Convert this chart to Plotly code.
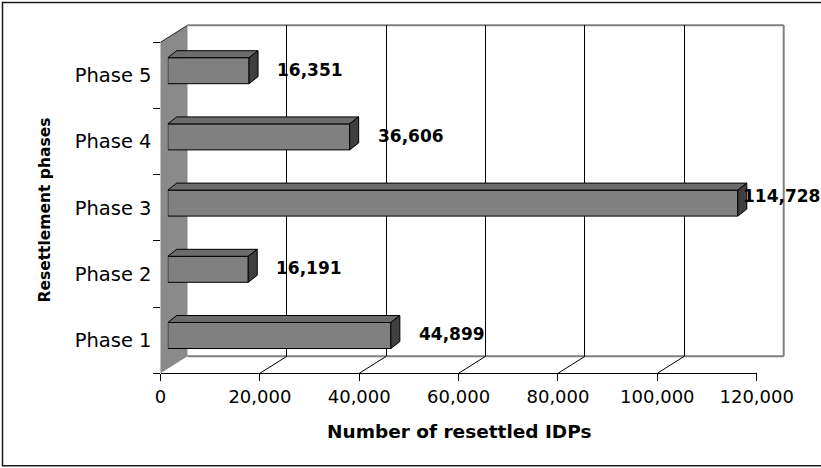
import plotly.graph_objects as go

# ---------------- data ----------------
phases = ["Phase 1", "Phase 2", "Phase 3", "Phase 4", "Phase 5"]
resettled = [44899, 16191, 114728, 36606, 16351]
x_ticks = [0, 20000, 40000, 60000, 80000, 100000, 120000]
x_title = "Number of resettled IDPs"
y_title = "Resettlement phases"

# ---------------- geometry / style ----------------
W, H = 821, 468
FX0, FX1 = 160.5, 756.7      # front plane, x pixels
FY0, FY1 = 42.3, 373.3       # front plane, y pixels (top, bottom)
XMAX = 120000
DX, DY = 27, 17              # depth of the back wall
BX, BY = 7.3, 4.7            # depth at which bars stand
TX, TY = 9, 7                # bar thickness (depth)
HALF = 13                    # half bar height in px
FONT = "DejaVu Sans"
LBL = 17
ppu = (FX1 - FX0) / XMAX


def fx(px):
    return px / W


def fy(py):
    return 1 - py / H


fig = go.Figure()

# helper (invisible) traces so the front and back axes exist
fig.add_trace(go.Scatter(x=[0] * len(phases), y=phases, mode="markers",
                         marker=dict(opacity=0), hoverinfo="skip",
                         showlegend=False, xaxis="x", yaxis="y"))
fig.add_trace(go.Scatter(x=[0], y=[0], mode="markers", marker=dict(opacity=0),
                         hoverinfo="skip", showlegend=False,
                         xaxis="x2", yaxis="y2"))

# the bars (front faces)
cat_px = (FY1 - FY0) / len(phases)
fig.add_trace(go.Bar(x=resettled, y=phases, orientation="h",
                     width=2 * HALF / cat_px,
                     marker=dict(color="#808080", line=dict(color="black", width=1)),
                     hoverinfo="skip", showlegend=False,
                     xaxis="x3", yaxis="y3"))

shapes = []

# left wall
shapes.append(dict(type="path", xref="paper", yref="paper", layer="below",
                   path=(f"M{fx(FX0)},{fy(FY1)} L{fx(FX0)},{fy(FY0)} "
                         f"L{fx(FX0+DX)},{fy(FY0-DY)} L{fx(FX0+DX)},{fy(FY1-DY)} Z"),
                   fillcolor="#8a8a8a", line=dict(width=0)))
shapes.append(dict(type="line", xref="paper", yref="paper", layer="below",
                   x0=fx(FX0), y0=fy(FY0), x1=fx(FX0 + DX), y1=fy(FY0 - DY),
                   line=dict(color="#202020", width=1)))
# back wall outline (top, right) and floor back edge
for (x0, y0, x1, y1) in [(FX0 + DX, FY0 - DY, FX1 + DX, FY0 - DY),
                         (FX1 + DX, FY0 - DY, FX1 + DX, FY1 - DY),
                         (FX0 + DX, FY1 - DY, FX1 + DX, FY1 - DY)]:
    shapes.append(dict(type="line", xref="paper", yref="paper", layer="below",
                       x0=fx(x0), y0=fy(y0), x1=fx(x1), y1=fy(y1),
                       line=dict(color="#808080", width=2)))
# floor diagonals
for v in x_ticks[1:]:
    col = "#808080" if v == x_ticks[-1] else "black"
    wid = 2 if v == x_ticks[-1] else 1
    shapes.append(dict(type="path", xref="x", yref="paper", layer="below",
                       xsizemode="pixel", xanchor=v,
                       ysizemode="pixel", yanchor=fy(FY1),
                       path=f"M0,0 L{DX},{DY}",
                       line=dict(color=col, width=wid)))

# 3D faces of the bars
for i, v in enumerate(resettled):
    shapes.append(dict(type="path", xref="x3", yref="y3", layer="above",
                       ysizemode="pixel", yanchor=phases[i],
                       path=(f"M0,{HALF} L{v},{HALF} L{v + TX / ppu},{HALF + TY} "
                             f"L{TX / ppu},{HALF + TY} Z"),
                       fillcolor="#6c6c6c", line=dict(color="black", width=1)))
    shapes.append(dict(type="path", xref="x3", yref="y3", layer="above",
                       xsizemode="pixel", xanchor=v,
                       ysizemode="pixel", yanchor=phases[i],
                       path=(f"M0,{-HALF} L0,{HALF} L{TX},{HALF + TY} "
                             f"L{TX},{-HALF + TY} Z"),
                       fillcolor="#3f3f3f", line=dict(color="black", width=1)))

# outer border
shapes.append(dict(type="rect", xref="paper", yref="paper", layer="above",
                   x0=fx(2.5), y0=fy(465.8), x1=fx(823), y1=fy(2.5),
                   line=dict(color="#1a1a1a", width=1.5)))

annotations = []
for i, v in enumerate(resettled):
    txt = f"{v:,}"
    end_px = FX0 + BX + v * ppu
    n_dig = sum(c.isdigit() for c in txt)
    n_com = txt.count(",")
    est_w = LBL * (0.696 * n_dig + 0.38 * n_com)
    shift, yshift = 26, 1
    if end_px + shift + est_w > 818:
        shift = 818 - est_w - end_px
        yshift = 7
    annotations.append(dict(x=v, y=phases[i], xref="x3", yref="y3",
                            text=txt, showarrow=False, xanchor="left",
                            yanchor="middle", xshift=shift, yshift=yshift,
                            font=dict(family=FONT, size=LBL, color="black",
                                      weight="bold")))

annotations.append(dict(x=0.5, y=fy(431.7), xref="x domain", yref="paper",
                        text=x_title, showarrow=False, xanchor="center",
                        yanchor="middle",
                        font=dict(family=FONT, size=18.5, color="black",
                                  weight="bold")))
annotations.append(dict(x=fx(44.5), y=fy(210), xref="paper", yref="paper",
                        text=y_title, showarrow=False, textangle=-90,
                        xanchor="center", yanchor="middle",
                        font=dict(family=FONT, size=15.5, color="black",
                                  weight="bold")))

fig.update_layout(
    width=W, height=H,
    margin=dict(l=0, r=0, t=0, b=0),
    paper_bgcolor="white", plot_bgcolor="rgba(0,0,0,0)",
    showlegend=False,
    font=dict(family=FONT, color="black"),
    xaxis=dict(domain=[fx(FX0), fx(FX1)], range=[0, XMAX], anchor="y",
               tickvals=x_ticks, tickformat=",", ticks="outside", ticklen=7,
               tickcolor="black", tickwidth=1, showline=True,
               linecolor="black", linewidth=1, showgrid=False,
               zeroline=False, automargin=False, fixedrange=True,
               tickfont=dict(family=FONT, size=18, color="black")),
    yaxis=dict(domain=[fy(FY1), fy(FY0)], type="category",
               categoryorder="array", categoryarray=phases,
               range=[-0.5, len(phases) - 0.5], anchor="x",
               tickson="boundaries", ticks="outside", ticklen=7,
               ticklabelstandoff=8,
               tickcolor="black", tickwidth=1, showline=False,
               showgrid=False, zeroline=False, automargin=False,
               fixedrange=True,
               tickfont=dict(family=FONT, size=19.5, color="black")),
    xaxis2=dict(domain=[fx(FX0 + DX), fx(FX1 + DX)], range=[0, XMAX],
                anchor="y2", tickvals=x_ticks[1:-1], showticklabels=False,
                ticks="", showgrid=True, gridcolor="black", gridwidth=1,
                showline=False, zeroline=False, fixedrange=True),
    yaxis2=dict(domain=[fy(FY1 - DY), fy(FY0 - DY)], range=[0, 1],
                anchor="x2", visible=False, fixedrange=True),
    xaxis3=dict(domain=[fx(FX0 + BX), fx(FX1 + BX)], range=[0, XMAX],
                anchor="y3", visible=False, fixedrange=True),
    yaxis3=dict(domain=[fy(FY1 - BY), fy(FY0 - BY)], type="category",
                categoryorder="array", categoryarray=phases,
                range=[-0.5, len(phases) - 0.5], anchor="x3",
                visible=False, fixedrange=True),
    shapes=shapes,
    annotations=annotations,
)

fig.write_html("out.html", config={"displayModeBar": False},
               post_script="document.body.style.margin='0';"
                           "document.body.style.overflow='hidden';")
